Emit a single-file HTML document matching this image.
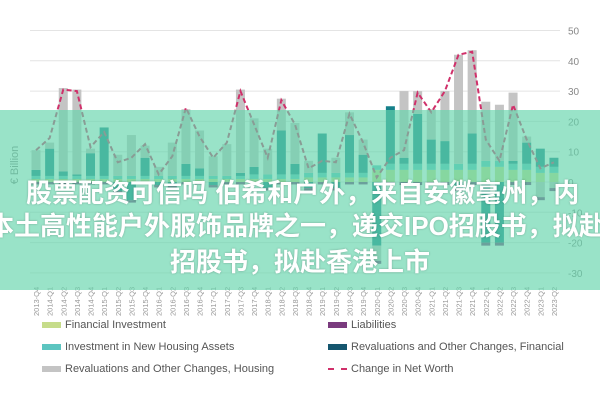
<!DOCTYPE html>
<html><head><meta charset="utf-8">
<style>
html,body{margin:0;padding:0;background:#fff;}
#wrap{position:relative;width:600px;height:400px;overflow:hidden;font-family:"Liberation Sans",sans-serif;}
svg{position:absolute;left:0;top:0;}
#banner{position:absolute;left:0;top:110px;width:600px;height:180px;background:rgba(100,212,172,0.66);overflow:hidden;}
.bt{position:absolute;white-space:nowrap;color:#fff;font-weight:bold;font-size:26px;line-height:30px;
font-family:"Liberation Sans","Noto Sans CJK SC",sans-serif;text-shadow:0 0 2px rgba(0,0,0,0.25);}
.leg{position:absolute;font-size:11px;color:#555;white-space:nowrap;}
.sw{display:inline-block;width:19px;height:6px;vertical-align:middle;margin-right:4px;}
</style></head><body>
<div id="wrap">
<svg id="chart" width="600" height="400"></svg>
<div id="banner">
 <div class="bt" style="left:26px;top:68px;">股票配资可信吗 伯希和户外，来自安徽亳州，内</div>
 <div class="bt" style="left:-12px;top:101px;">本土高性能户外服饰品牌之一，递交IPO招股书，拟赴香港上市</div>
 <div class="bt" style="left:170px;top:137px;">招股书，拟赴香港上市</div>
</div>
<div class="leg" style="left:42px;top:319px"><span class="sw" style="background:#c6dc8a"></span>Financial Investment</div>
<div class="leg" style="left:42px;top:341px"><span class="sw" style="background:#5cc5c0"></span>Investment in New Housing Assets</div>
<div class="leg" style="left:42px;top:363px"><span class="sw" style="background:#c4c4c4"></span>Revaluations and Other Changes, Housing</div>
<div class="leg" style="left:328px;top:319px"><span class="sw" style="background:#7a3b7e"></span>Liabilities</div>
<div class="leg" style="left:328px;top:341px"><span class="sw" style="background:#15566e"></span>Revaluations and Other Changes, Financial</div>
<div class="leg" style="left:328px;top:363px"><span class="sw" style="height:0;border-top:2px dashed #d0306a;background:none"></span>Change in Net Worth</div>
</div>
<script>
const categories=[];for(let y=2013,q=4;categories.length<39;){categories.push(y+'-Q'+q);q++;if(q>4){q=1;y++;}}
const yTicks=[50,40,30,20,10,0,-10,-20,-30];
const fin=[1,1,1,1,1,1,1,1,1,1,1,1,1,1,1,1,1,1,1,1,1.5,1.5,1.5,1.5,1.5,4,4,4,4,4,4,4,4,5,5,4,4,3,3];
const house=[1,1,1,1,1,1,1,1,1,1,1,1,1,1,1,1,1.5,1.5,1.5,1.5,1.5,1.5,1.5,1.5,1.5,1.5,2,2,2,2,2,2,2,2,2,2,2,2,2];
const revFin=[2,9,1.5,0.5,7.5,16,-3,-6,6,-1,-1,4,2.5,-1,0,1,2.5,-2,14.5,3.5,-2,13,-2,12.5,6,-21,19,2,16.5,8,7.5,-2,10,-20,-20,1,7,6,3];
const revHouse=[6.5,2,27.5,28,1.5,0,7,13.5,4,3,11,18,12.5,6.5,10.5,27.5,16,8.5,10.5,13.5,4,0,5,7.5,5,-5,0,22,7.5,10,16.5,36,27.5,19.5,18.5,22.5,2,-5,-2];
const liab=[-0.8,-0.8,-0.8,-0.8,-0.8,-0.8,-0.8,-0.8,-0.8,-0.8,-0.8,-0.8,-0.8,-0.8,-0.8,-0.8,-0.8,-0.8,-0.8,-0.8,-0.8,-0.8,-0.8,-0.8,-0.8,-1,-1,-1,-1,-1,-1,-1,-1,-1,-1,-1,-1,-1,-1];
const net=[10.5,14.5,30.5,30,11.5,16.5,6.5,8,12.5,2.5,8.5,24.5,15,8,13,30,19,8,27,19,4.5,7,6.5,22.5,13,1.5,8,10.5,29.5,23,30,42,43,14,7,25.5,14,4.5,6.5];

const svg=document.getElementById('chart');const NS='http://www.w3.org/2000/svg';
const yS=v=>182-v*3.03;const xS=i=>36+i*13.63;
function mk(t,a){const e=document.createElementNS(NS,t);for(const k in a)e.setAttribute(k,a[k]);svg.appendChild(e);return e;}
yTicks.forEach(v=>{
 const l=mk('line',{x1:30,x2:560,y1:yS(v),y2:yS(v),stroke:'#e4e4e4','stroke-width':1});
 
 
 const t=mk('text',{x:568,y:yS(v)+4,'font-size':10,fill:'#888'});t.textContent=v;
 
 
});
const yt=mk('text',{x:0,y:0,'font-size':11,fill:'#888',transform:'translate(18,165) rotate(-90)','text-anchor':'middle'});yt.textContent='€ Billion';


const series=[[fin,'#c6dc8a','financial-investment'],[house,'#5cc5c0','new-housing'],[revFin,'#15808a','revaluations-financial'],[revHouse,'#c4c4c4','revaluations-housing'],[liab,'#7a3b7e','liabilities']];
categories.forEach((c,i)=>{
 let pos=0,neg=0;
 series.forEach(([arr,col,nm])=>{
  const v=arr[i];if(!v)return;let y0,y1;
  if(v>0){y0=pos;y1=pos+v;pos=y1;}else{y0=neg;y1=neg+v;neg=y1;}
  const r=mk('rect',{x:xS(i)-4.5,width:9,y:Math.min(yS(y0),yS(y1)),height:Math.abs(yS(y0)-yS(y1)),fill:col});
  
  
 });
 const t=mk('text',{x:0,y:0,'font-size':7.5,fill:'#999','text-anchor':'end',transform:`translate(${xS(i)+3},284) rotate(-90)`});
 t.setAttribute('text-anchor','start');
 t.setAttribute('transform',`translate(${xS(i)+3},316) rotate(-90)`);
 t.textContent=c;
 
 
});
const p=mk('polyline',{points:net.map((v,i)=>xS(i)+','+yS(v)).join(' '),fill:'none',stroke:'#d0306a','stroke-width':2,'stroke-dasharray':'5,3'});


</script>
</body></html>
